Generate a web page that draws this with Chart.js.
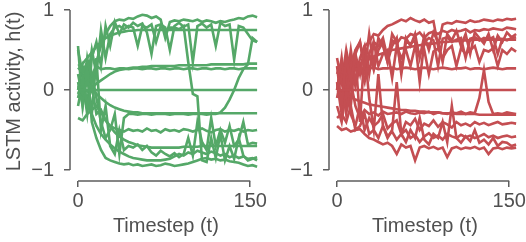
<!DOCTYPE html>
<html lang="en">
  <head>
    <meta charset="UTF-8" />
    <script src="https://cdn.jsdelivr.net/npm/chart.js@4.4.1/dist/chart.umd.min.js"></script>
    <title>LSTM activity</title>
    <style>
      body { margin: 0; background: #fff; }
      #wrap { position: relative; width: 526px; height: 242px; }
      canvas { position: absolute; top: 0; }
    </style>
  </head>
  <body>
    <div id="wrap">
      <canvas id="left" width="280" height="242" style="left:0"></canvas>
      <canvas id="right" width="263" height="242" style="left:263px"></canvas>
    </div>
    <script>
      // timesteps sampled every 4 steps
      const steps = [0,4,8,12,16,20,24,28,32,36,40,44,48,52,56,60,64,68,72,76,80,84,88,92,96,100,104,108,112,116,120,124,128,132,136,140,144,148,152,156];
      const xTicks = [0, 150];
      const yTicks = [-1, 0, 1];

      // green panel units
      const gZero = [0,0,0,0,0,0,0,0,0,0,0,0,0,0,0,0,0,0,0,0,0,0,0,0,0,0,0,0,0,0,0,0,0,0,0,0,0,0,0,0];
      const gA = [0.30,0.33,0.40,0.47,0.54,0.60,0.65,0.68,0.70,0.72,0.73,0.74,0.74,0.75,0.75,0.75,0.75,0.75,0.75,0.75,0.75,0.75,0.75,0.75,0.75,0.75,0.75,0.75,0.75,0.75,0.75,0.75,0.75,0.75,0.75,0.75,0.75,0.75,0.75,0.75];
      const gB = [0.05,-0.05,0.10,0.02,0.08,0.12,0.16,0.20,0.23,0.25,0.26,0.27,0.28,0.28,0.29,0.29,0.30,0.30,0.30,0.30,0.30,0.30,0.31,0.31,0.31,0.31,0.31,0.31,0.31,0.32,0.32,0.32,0.32,0.32,0.32,0.32,0.32,0.33,0.33,0.33];
      const gC = [0.28,0.22,0.35,0.18,0.30,0.26,0.27,0.27,0.26,0.27,0.27,0.26,0.27,0.27,0.26,0.27,0.27,0.26,0.27,0.27,0.26,0.27,0.27,0.26,0.27,0.27,0.26,0.27,0.27,0.26,0.27,0.27,0.26,0.27,0.27,0.26,0.27,0.27,0.27,0.27];
      const gD = [0.00,0.05,-0.02,0.04,-0.05,-0.10,-0.15,-0.19,-0.22,-0.24,-0.26,-0.27,-0.28,-0.28,-0.29,-0.29,-0.29,-0.29,-0.29,-0.29,-0.29,-0.29,-0.29,-0.29,-0.29,-0.29,-0.29,-0.29,-0.29,-0.29,-0.29,-0.29,-0.29,-0.29,-0.29,-0.29,-0.29,-0.29,-0.29,-0.29];
      const gE = [-0.10,0.15,-0.20,0.05,-0.30,-0.25,-0.38,-0.45,-0.48,-0.50,-0.52,-0.49,-0.51,-0.50,-0.52,-0.48,-0.51,-0.50,-0.53,-0.49,-0.51,-0.50,-0.52,-0.49,-0.50,-0.52,-0.50,-0.48,-0.51,-0.53,-0.50,-0.49,-0.52,-0.50,-0.51,-0.49,-0.52,-0.50,-0.51,-0.50];
      const gF = [-0.35,-0.38,-0.30,-0.25,-0.20,-0.28,-0.38,-0.46,-0.53,-0.58,-0.62,-0.65,-0.67,-0.69,-0.70,-0.71,-0.72,-0.72,-0.72,-0.72,-0.72,-0.72,-0.72,-0.71,-0.71,-0.71,-0.71,-0.70,-0.70,-0.70,-0.70,-0.70,-0.70,-0.70,-0.70,-0.70,-0.70,-0.70,-0.70,-0.70];
      const gG = [0.10,-0.20,0.30,-0.40,-0.60,-0.75,-0.85,-0.88,-0.90,-0.92,-0.93,-0.92,-0.94,-0.93,-0.95,-0.94,-0.93,-0.95,-0.94,-0.92,-0.93,-0.95,-0.94,-0.93,-0.92,-0.90,-0.88,-0.86,-0.85,-0.87,-0.86,-0.88,-0.87,-0.89,-0.90,-0.91,-0.93,-0.95,-0.94,-0.96];
      const gH = [-0.05,0.10,-0.15,-0.30,-0.45,-0.55,-0.62,-0.68,-0.73,-0.77,-0.80,-0.83,-0.85,-0.86,-0.87,-0.88,-0.88,-0.88,-0.88,-0.87,-0.86,-0.83,-0.80,-0.82,-0.78,-0.80,-0.76,-0.78,-0.80,-0.77,-0.79,-0.82,-0.80,-0.84,-0.82,-0.85,-0.83,-0.86,-0.85,-0.88];
      const gI = [0.20,-0.10,0.40,0.10,0.35,0.55,0.70,0.80,0.86,0.88,0.87,0.90,0.89,0.92,0.94,0.93,0.90,0.92,0.88,0.65,0.85,0.87,0.86,0.88,0.87,0.86,0.88,0.85,0.87,0.86,0.84,0.86,0.85,0.87,0.88,0.90,0.89,0.92,0.93,0.91];
      const gJ = [0.50,0.20,-0.20,0.40,0.60,0.30,0.80,0.55,0.85,0.70,0.82,0.78,0.84,0.80,0.83,0.72,0.45,0.80,0.82,0.78,0.50,0.80,0.84,0.79,0.82,0.35,0.80,0.83,0.78,0.82,0.55,0.84,0.80,0.82,0.38,0.80,0.78,0.70,0.62,0.60];
      const gK = [0.00,0.30,0.10,0.50,0.20,0.75,0.40,0.70,0.78,0.80,0.76,0.80,0.78,0.55,0.80,0.78,0.82,0.60,0.80,0.74,0.78,0.78,0.76,0.80,0.35,-0.05,-0.08,-0.88,-0.90,-0.60,-0.85,-0.55,-0.88,-0.70,-0.86,-0.60,-0.82,-0.88,-0.86,-0.84];
      const gL = [-0.20,0.10,-0.30,0.20,-0.10,-0.40,-0.60,-0.50,-0.30,-0.80,-0.35,-0.30,-0.30,-0.31,-0.30,-0.30,-0.31,-0.30,-0.30,-0.30,-0.31,-0.30,-0.30,-0.30,-0.31,-0.30,-0.30,-0.30,-0.31,-0.30,-0.30,-0.28,-0.22,-0.12,0.00,0.15,0.26,0.32,0.65,0.60];
      const gM = [0.55,-0.20,0.20,-0.30,0.40,-0.50,-0.20,-0.70,-0.80,-0.50,-0.75,-0.70,-0.72,-0.68,-0.75,-0.70,-0.78,-0.82,-0.76,-0.80,-0.83,-0.79,-0.84,-0.80,-0.60,-0.82,-0.40,-0.65,-0.75,-0.35,-0.70,-0.50,-0.66,-0.45,-0.70,-0.62,-0.40,-0.68,-0.66,-0.67];

      // red panel units
      const rZero = [0,0,0,0,0,0,0,0,0,0,0,0,0,0,0,0,0,0,0,0,0,0,0,0,0,0,0,0,0,0,0,0,0,0,0,0,0,0,0,0];
      const rA = [0.30,-0.20,0.40,0.10,0.45,0.20,0.55,0.60,0.70,0.68,0.75,0.80,0.82,0.85,0.88,0.86,0.90,0.87,0.85,0.88,0.84,0.86,0.55,0.82,0.84,0.83,0.86,0.85,0.84,0.87,0.85,0.86,0.88,0.87,0.86,0.88,0.87,0.89,0.88,0.89];
      const rB = [0.00,0.40,-0.10,0.30,0.50,0.60,0.30,0.45,0.60,0.55,0.65,0.40,0.62,0.58,0.66,0.64,0.70,0.68,0.72,0.65,0.71,0.73,0.70,0.74,0.72,0.75,0.73,0.74,0.76,0.72,0.75,0.74,0.76,0.75,0.77,0.76,0.75,0.78,0.77,0.76];
      const rC = [0.05,0.15,0.20,0.25,0.30,0.33,0.36,0.39,0.42,0.44,0.46,0.48,0.50,0.51,0.52,0.53,0.54,0.55,0.56,0.57,0.58,0.58,0.59,0.60,0.60,0.61,0.61,0.62,0.62,0.62,0.63,0.63,0.63,0.63,0.63,0.63,0.63,0.63,0.63,0.63];
      const rD = [0.27,0.30,0.20,0.35,0.25,0.28,0.26,0.27,0.28,0.26,0.27,0.27,0.28,0.26,0.27,0.28,0.27,0.26,0.27,0.28,0.27,0.26,0.27,0.28,0.27,0.26,0.27,0.27,0.28,0.26,0.27,0.27,0.26,0.27,0.28,0.27,0.26,0.27,0.27,0.27];
      const rE = [0.40,0.10,0.50,0.20,0.45,0.60,0.25,0.70,0.30,0.65,0.55,0.35,0.70,0.60,0.25,0.65,0.55,0.70,0.40,0.68,0.50,0.72,0.60,0.35,0.70,0.62,0.74,0.55,0.70,0.45,0.72,0.65,0.58,0.70,0.50,0.68,0.60,0.72,0.66,0.70];
      const rF = [0.20,0.35,0.05,0.50,0.10,0.40,0.55,0.20,0.60,0.30,0.45,0.50,0.15,0.55,0.40,0.50,0.30,0.55,0.45,0.50,0.20,0.48,0.52,0.40,0.50,0.55,0.30,0.52,0.45,0.50,0.55,0.35,0.50,0.48,0.52,0.30,0.50,0.45,0.52,0.48];
      const rG = [0.00,-0.03,-0.06,-0.09,-0.12,-0.14,-0.16,-0.18,-0.19,-0.20,-0.21,-0.22,-0.23,-0.24,-0.25,-0.25,-0.26,-0.26,-0.27,-0.27,-0.28,-0.28,-0.28,-0.29,-0.29,-0.29,-0.30,-0.30,-0.30,-0.30,-0.30,-0.31,-0.31,-0.31,-0.31,-0.31,-0.31,-0.31,-0.31,-0.31];
      const rH = [-0.10,0.20,-0.30,0.10,-0.20,-0.35,-0.25,-0.30,-0.28,-0.32,-0.27,-0.30,-0.29,-0.28,-0.30,-0.27,-0.29,-0.30,-0.28,-0.29,-0.27,-0.30,-0.28,-0.29,-0.30,-0.28,-0.29,-0.27,-0.30,-0.28,-0.29,-0.10,0.25,-0.15,-0.30,-0.29,-0.30,-0.28,-0.29,-0.30];
      const rI = [-0.20,-0.40,0.00,-0.30,-0.45,-0.20,-0.50,-0.35,-0.45,-0.40,-0.30,-0.48,-0.42,-0.38,-0.55,-0.40,-0.44,-0.36,-0.50,-0.42,-0.45,-0.38,-0.46,-0.40,-0.43,-0.47,-0.40,-0.44,-0.42,-0.45,-0.40,-0.43,-0.41,-0.44,-0.42,-0.40,-0.43,-0.42,-0.41,-0.42];
      const rJ = [-0.35,-0.30,-0.40,-0.20,-0.50,-0.45,-0.30,-0.55,-0.50,-0.60,-0.45,-0.58,-0.52,-0.62,-0.55,-0.50,-0.60,-0.56,-0.65,-0.58,-0.54,-0.60,-0.57,-0.62,-0.55,-0.58,-0.60,-0.56,-0.59,-0.57,-0.60,-0.58,-0.55,-0.59,-0.57,-0.60,-0.58,-0.57,-0.59,-0.58];
      const rK = [-0.45,-0.50,-0.48,-0.52,-0.50,-0.49,-0.55,-0.60,-0.62,-0.65,-0.68,-0.66,-0.70,-0.80,-0.68,-0.72,-0.70,-0.88,-0.72,-0.70,-0.73,-0.71,-0.74,-0.72,-0.84,-0.73,-0.71,-0.74,-0.72,-0.73,-0.71,-0.74,-0.72,-0.80,-0.73,-0.72,-0.74,-0.72,-0.73,-0.72];
      const rL = [0.10,-0.30,0.30,-0.20,0.45,-0.40,0.50,-0.10,-0.50,0.20,-0.45,-0.60,-0.50,0.10,-0.55,-0.65,-0.50,-0.60,-0.35,-0.62,-0.68,-0.55,-0.60,-0.40,-0.65,-0.20,-0.60,-0.66,-0.58,-0.64,-0.50,-0.66,-0.62,-0.68,-0.60,-0.70,-0.65,-0.66,-0.70,-0.68];
      const rM = [0.00,0.25,-0.20,0.40,0.05,0.30,0.10,0.45,0.25,0.50,0.60,0.35,0.55,0.65,0.20,0.60,0.58,0.62,0.10,0.60,0.65,0.62,0.30,0.64,0.66,0.60,0.63,0.65,0.40,0.64,0.66,0.62,0.65,0.63,0.66,0.45,0.64,0.62,0.65,0.66];

      const greenUnits = [gZero, gA, gB, gC, gD, gE, gF, gG, gH, gI, gJ, gK, gL, gM];
      const redUnits = [rZero, rA, rB, rC, rD, rE, rF, rG, rH, rI, rJ, rK, rL, rM];

      const txtColor = "#505050";
      const axColor = "#5e5e5e";
      const fontFam = "'Liberation Sans', Arial, Helvetica, sans-serif";

      // trimmed spines, like seaborn despine(trim=True)
      const spines = {
        id: "spines",
        afterDraw(chart) {
          const ctx = chart.ctx;
          const xs = chart.scales.x, ys = chart.scales.y;
          const area = chart.chartArea;
          ctx.save();
          ctx.strokeStyle = axColor;
          ctx.lineWidth = 1.5;
          ctx.beginPath();
          ctx.moveTo(area.left, ys.getPixelForValue(1));
          ctx.lineTo(area.left, ys.getPixelForValue(-1));
          ctx.moveTo(xs.getPixelForValue(0), area.bottom);
          ctx.lineTo(xs.getPixelForValue(150), area.bottom);
          ctx.stroke();
          ctx.restore();
        },
      };

      function makePanel(id, units, color, yWidth, padRight, showTitle) {
        const datasets = units.map((u) => ({
          data: u.map((v, i) => ({ x: steps[i], y: v })),
          borderColor: color,
          borderWidth: 2.6,
          pointRadius: 0,
          tension: 0,
          fill: false,
        }));
        return new Chart(document.getElementById(id), {
          type: "line",
          data: { datasets: datasets },
          plugins: [spines],
          options: {
            responsive: false,
            animation: false,
            layout: { padding: { top: 2, right: padRight, left: 0, bottom: 0 } },
            plugins: { legend: { display: false }, tooltip: { enabled: false } },
            scales: {
              x: {
                type: "linear",
                min: -7,
                max: 160,
                afterBuildTicks: (s) => { s.ticks = xTicks.map((v) => ({ value: v })); },
                afterFit: (s) => { s.height = 61; s.paddingLeft = 0; s.paddingRight = 0; },
                ticks: { color: txtColor, font: { family: fontFam, size: 20 }, padding: 2, maxRotation: 0 },
                grid: { display: true, drawOnChartArea: false, drawTicks: true, tickLength: 6, color: axColor, lineWidth: 1.5 },
                border: { display: false },
                title: { display: true, text: "Timestep (t)", color: txtColor, font: { family: fontFam, size: 20 }, padding: { top: 0, bottom: 4 } },
              },
              y: {
                min: -1.1375,
                max: 1.1,
                afterBuildTicks: (s) => { s.ticks = yTicks.map((v) => ({ value: v })); },
                afterFit: (s) => { s.width = yWidth; s.paddingTop = 0; s.paddingBottom = 0; },
                ticks: {
                  color: txtColor,
                  font: { family: fontFam, size: 20 },
                  padding: 10,
                  callback: (v) => (v < 0 ? "\u2212" + Math.abs(v) : String(v)),
                },
                grid: { display: true, drawOnChartArea: false, drawTicks: true, tickLength: 6, color: axColor, lineWidth: 1.5 },
                border: { display: false },
                title: { display: showTitle, text: "LSTM activity, h(t)", color: txtColor, font: { family: fontFam, size: 20 }, padding: { top: 2, bottom: 0 } },
              },
            },
          },
        });
      }

      makePanel("left", greenUnits, "#55a868", 70, 18.3, true);
      makePanel("right", redUnits, "#c44e52", 66, 5.3, false);
    </script>
  </body>
</html>
